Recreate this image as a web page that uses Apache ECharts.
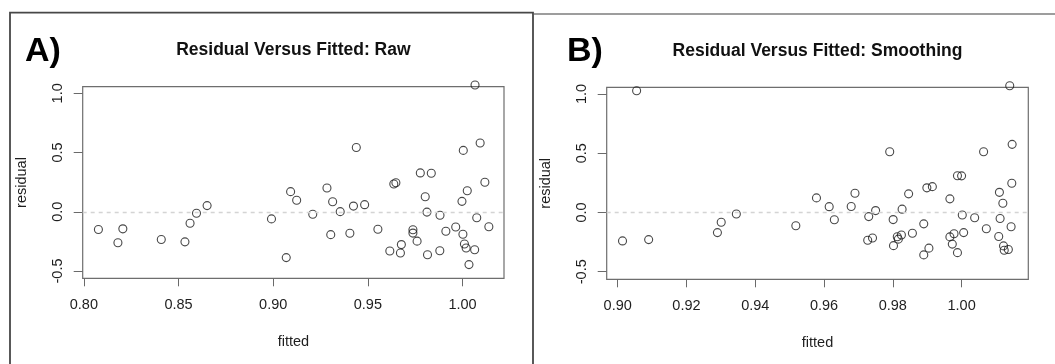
<!DOCTYPE html>
<html>
<head>
<meta charset="utf-8">
<script src="https://cdn.jsdelivr.net/npm/echarts@6/dist/echarts.min.js"></script>
<style>
  html, body { margin: 0; padding: 0; background: #fff; }
  #chart { width: 1055px; height: 364px; }
</style>
</head>
<body>
<div id="chart"></div>
<script>
// ---- Data ----
const rawTitle = "Residual Versus Fitted: Raw";
const smoothTitle = "Residual Versus Fitted: Smoothing";
const rawXTicks = [0.80, 0.85, 0.90, 0.95, 1.00];
const smoothXTicks = [0.90, 0.92, 0.94, 0.96, 0.98, 1.00];
const yTicks = [-0.5, 0.0, 0.5, 1.0];

const rawFitted = [0.8077, 0.8180, 0.8206, 0.8409, 0.8534, 0.8561, 0.8595, 0.8651, 0.8991, 0.9069,
  0.9092, 0.9124, 0.9209, 0.9284, 0.9304, 0.9314, 0.9354, 0.9405, 0.9424, 0.9439,
  0.9483, 0.9553, 0.9616, 0.9637, 0.9648, 0.9672, 0.9677, 0.9738, 0.9738, 0.9760,
  0.9777, 0.9803, 0.9812, 0.9815, 0.9835, 0.9881, 0.9880, 0.9912, 0.9964, 1.0004,
  0.9997, 1.0002, 1.0010, 1.0019, 1.0025, 1.0034, 1.0064, 1.0066, 1.0075, 1.0093,
  1.0118, 1.0139];
const rawResidual = [-0.150, -0.261, -0.144, -0.234, -0.254, -0.097, -0.012, 0.052, -0.060, -0.387,
  0.170, 0.097, -0.021, 0.200, -0.193, 0.085, 0.001, -0.181, 0.048, 0.543,
  0.060, -0.147, -0.331, 0.234, 0.245, -0.348, -0.277, -0.152, -0.180, -0.248,
  0.328, 0.127, -0.003, -0.363, 0.325, -0.030, -0.329, -0.164, -0.128, 0.518,
  0.088, -0.190, -0.272, -0.306, 0.177, -0.446, -0.320, 1.070, -0.050, 0.580,
  0.249, -0.126];

const smoothFitted = [0.9014, 0.9055, 0.9090, 0.9290, 0.9301, 0.9345, 0.9518, 0.9578, 0.9615, 0.9630,
  0.9679, 0.9690, 0.9727, 0.9730, 0.9741, 0.9750, 0.9791, 0.9801, 0.9802, 0.9813,
  0.9816, 0.9825, 0.9827, 0.9846, 0.9857, 0.9890, 0.9890, 0.9899, 0.9905, 0.9915,
  0.9966, 0.9966, 0.9973, 0.9978, 0.9988, 0.9988, 1.0000, 1.0002, 1.0006, 1.0038,
  1.0064, 1.0072, 1.0108, 1.0110, 1.0112, 1.0120, 1.0122, 1.0124, 1.0136, 1.0140,
  1.0144, 1.0146, 1.0147];
const smoothResidual = [-0.240, 1.027, -0.229, -0.170, -0.082, -0.013, -0.112, 0.123, 0.049, -0.062,
  0.050, 0.162, -0.235, -0.035, -0.215, 0.016, 0.512, -0.060, -0.280, -0.205,
  -0.225, -0.190, 0.028, 0.157, -0.175, -0.096, -0.358, 0.208, -0.301, 0.218,
  0.115, -0.206, -0.267, -0.179, -0.339, 0.310, 0.309, -0.021, -0.170, -0.044,
  0.512, -0.137, -0.203, 0.170, -0.051, 0.078, -0.282, -0.319, -0.312, 1.070,
  -0.121, 0.247, 0.575];

// ---- build ----
const zip = (a, b) => a.map((v, i) => [v, b[i]]);
const FONT = '"Liberation Sans", Arial, Helvetica, sans-serif';
const TXT = '#1e1e1e';

function xAxisCfg(gridIndex, min, max, ticks) {
  return {
    type: 'value', gridIndex, min, max, position: 'bottom',
    name: 'fitted', nameLocation: 'middle', nameGap: 56,
    nameTextStyle: { fontFamily: FONT, fontSize: 14.5, color: TXT },
    axisLine: { show: false, onZero: false },
    splitLine: { show: false },
    axisTick: { show: true, inside: false, length: 8, customValues: ticks, lineStyle: { color: '#6a6a6a', width: 1 } },
    axisLabel: { customValues: ticks, margin: 19, fontFamily: FONT, fontSize: 14.5, color: TXT,
      formatter: v => v.toFixed(2) }
  };
}
function yAxisCfg(gridIndex, min, max) {
  return {
    type: 'value', gridIndex, min, max, position: 'left',
    name: 'residual', nameLocation: 'middle', nameGap: 53,
    nameTextStyle: { fontFamily: FONT, fontSize: 14.5, color: TXT },
    axisLine: { show: false, onZero: false },
    splitLine: { show: false },
    axisTick: { show: true, inside: false, length: 9, customValues: yTicks, lineStyle: { color: '#6a6a6a', width: 1 } },
    axisLabel: { customValues: yTicks, rotate: 90, margin: 17, fontFamily: FONT, fontSize: 14.5, color: TXT,
      formatter: v => v.toFixed(1) }
  };
}
function scatterCfg(idx, data) {
  return {
    type: 'scatter', xAxisIndex: idx, yAxisIndex: idx, data,
    clip: false,
    symbol: 'circle', symbolSize: 8,
    itemStyle: { color: 'rgba(255,255,255,0)', borderColor: '#1a1a1a', borderWidth: 1.1 },
    silent: true,
    markLine: {
      silent: true, symbol: 'none', label: { show: false },
      lineStyle: { color: '#d4d4d4', type: [4, 4], width: 1.4 },
      data: [{ yAxis: 0 }]
    },
    z: 3
  };
}

const chart = echarts.init(document.getElementById('chart'), null, { renderer: 'canvas' });
chart.setOption({
  animation: false,
  backgroundColor: '#ffffff',
  title: [
    { text: rawTitle, left: 293.4, top: 41, textAlign: 'center', padding: 0,
      textStyle: { fontFamily: FONT, fontSize: 17.5, fontWeight: 'bold', color: '#111' } },
    { text: smoothTitle, left: 817.5, top: 42, textAlign: 'center', padding: 0,
      textStyle: { fontFamily: FONT, fontSize: 17.5, fontWeight: 'bold', color: '#111' } },
    { text: 'A)', left: 25, top: 35, padding: 0,
      textStyle: { fontFamily: FONT, fontSize: 34, fontWeight: 'bold', color: '#000' } },
    { text: 'B)', left: 567, top: 35, padding: 0,
      textStyle: { fontFamily: FONT, fontSize: 34, fontWeight: 'bold', color: '#000' } }
  ],
  grid: [
    { left: 82.7, top: 86.7, width: 421.3, height: 191.6, show: true, borderColor: '#6e6e6e', borderWidth: 1.2, containLabel: false },
    { left: 606.7, top: 87.3, width: 421.6, height: 192, show: true, borderColor: '#6e6e6e', borderWidth: 1.2, containLabel: false }
  ],
  xAxis: [
    xAxisCfg(0, 0.7994, 1.0219, rawXTicks),
    xAxisCfg(1, 0.8968, 1.0194, smoothXTicks)
  ],
  yAxis: [
    yAxisCfg(0, -0.5616, 1.0557),
    yAxisCfg(1, -0.564, 1.0565)
  ],
  series: [
    scatterCfg(0, zip(rawFitted, rawResidual)),
    scatterCfg(1, zip(smoothFitted, smoothResidual))
  ],
  graphic: [
    { type: 'polyline', silent: true, shape: { points: [[10, 364], [10, 12.7], [533, 12.7], [533, 364]] },
      style: { stroke: '#474747', lineWidth: 1.8, fill: null } },
    { type: 'line', silent: true, shape: { x1: 534, y1: 14, x2: 1055, y2: 14 },
      style: { stroke: '#7c7c7c', lineWidth: 1.3 } }
  ]
});
</script>
</body>
</html>
